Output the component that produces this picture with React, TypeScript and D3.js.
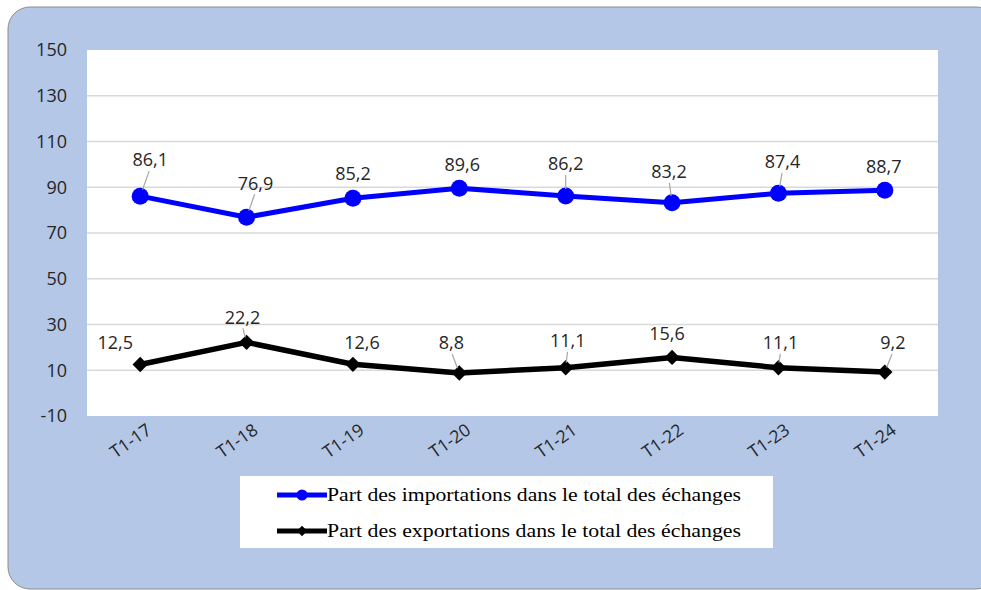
import React from "react";
import * as d3 from "d3";

const categories = ["T1-17", "T1-18", "T1-19", "T1-20", "T1-21", "T1-22", "T1-23", "T1-24"];
const importsShare = [86.1, 76.9, 85.2, 89.6, 86.2, 83.2, 87.4, 88.7];
const exportsShare = [12.5, 22.2, 12.6, 8.8, 11.1, 15.6, 11.1, 9.2];
const yTicks = [-10, 10, 30, 50, 70, 90, 110, 130, 150];
const seriesNames = [
  "Part des importations dans le total des échanges",
  "Part des exportations dans le total des échanges",
];

// label placement (offset of label centre from its point, in px) and leader flags
const importLabelOffsets: [number, number][] = [[10, -36], [9, -34], [0, -25], [3, -23], [0, -32], [-3, -31], [4, -31], [-1, -24]];
const exportLabelOffsets: [number, number][] = [[-25, -22], [-4, -25], [9, -22], [-8, -30], [2, -27], [-5, -24], [2, -25], [8, -29]];
const importLeaders = [true, true, false, false, true, true, true, false];
const exportLeaders = [false, true, false, true, true, false, true, true];

const W = 981, H = 590;
const plot = { left: 87, top: 50, right: 938, bottom: 416 };
const fmt = (v: number) => v.toFixed(1).replace(".", ",");
const sans = "'Open Sans', 'Liberation Sans', sans-serif";

export default function App() {
  const x = d3.scaleBand<string>().domain(categories).range([plot.left, plot.right]);
  const cx = (c: string) => (x(c) as number) + x.bandwidth() / 2;
  const y = d3.scaleLinear().domain([-10, 150]).range([plot.bottom, plot.top]);
  const line = d3.line<number>().x((_, i) => cx(categories[i])).y((d) => y(d));
  const diamond = d3.symbol().type(d3.symbolDiamond2).size(150)();
  const legendDiamond = d3.symbol().type(d3.symbolDiamond2).size(70)();

  const labels = (vals: number[], offs: [number, number][], leaders: boolean[], r: number) =>
    vals.map((v, i) => {
      const px = cx(categories[i]);
      const py = y(v);
      const lx = px + offs[i][0];
      const ly = py + offs[i][1];
      const x1 = lx + offs[i][0] * -0.1;
      const y1 = ly + 11;
      const dx = px - x1, dy = py - y1;
      const len = Math.hypot(dx, dy);
      const x2 = px - (dx / len) * (r - 2);
      const y2 = py - (dy / len) * (r - 2);
      return (
        <g key={i}>
          {leaders[i] && <line x1={x1} y1={y1} x2={x2} y2={y2} stroke="#a6a6a6" strokeWidth={1.2} />}
          <text x={lx} y={ly} dy="0.35em" textAnchor="middle" fontFamily={sans} fontSize={18} fill="#262626">
            {fmt(v)}
          </text>
        </g>
      );
    });

  return (
    <svg width={W} height={H} style={{ position: "absolute", left: 0, top: 0 }}>
      <rect x={8} y={7} width={990} height={582} rx={22} fill="#b4c7e7" stroke="#8c8c8c" strokeWidth={1} />
      <rect x={plot.left} y={plot.top} width={plot.right - plot.left} height={plot.bottom - plot.top} fill="#ffffff" />
      {yTicks.slice(1, -1).map((t) => (
        <line key={t} x1={plot.left} x2={plot.right} y1={y(t)} y2={y(t)} stroke="#d9d9d9" strokeWidth={1.5} />
      ))}
      {yTicks.map((t) => (
        <text key={t} x={67} y={y(t)} dy="0.35em" textAnchor="end" fontFamily={sans} fontSize={18} fill="#262626">
          {t}
        </text>
      ))}
      {categories.map((c) => (
        <text key={c} transform={`translate(${cx(c) + 5},${plot.bottom + 6}) rotate(-35)`} textAnchor="end" dy="0.75em"
          fontFamily={sans} fontSize={17.5} fill="#262626">
          {c}
        </text>
      ))}
      <path d={line(importsShare) || ""} fill="none" stroke="#0000ff" strokeWidth={5} strokeLinejoin="round" />
      {importsShare.map((v, i) => (
        <circle key={i} cx={cx(categories[i])} cy={y(v)} r={8.5} fill="#0000ff" />
      ))}
      <path d={line(exportsShare) || ""} fill="none" stroke="#000000" strokeWidth={5.5} strokeLinejoin="round" />
      {exportsShare.map((v, i) => (
        <path key={i} d={diamond || ""} transform={`translate(${cx(categories[i])},${y(v)})`} fill="#000000" />
      ))}
      {labels(importsShare, importLabelOffsets, importLeaders, 9)}
      {labels(exportsShare, exportLabelOffsets, exportLeaders, 7)}
      <rect x={240} y={476} width={533} height={72} fill="#ffffff" />
      {seriesNames.map((n, i) => {
        const ly = 495 + i * 36;
        return (
          <g key={n}>
            <line x1={277} x2={327} y1={ly} y2={ly} stroke={i === 0 ? "#0000ff" : "#000000"} strokeWidth={5} />
            {i === 0 ? (
              <circle cx={302} cy={ly} r={5.5} fill="#0000ff" />
            ) : (
              <path d={legendDiamond || ""} transform={`translate(302,${ly})`} fill="#000" />
            )}
            <text x={327} y={ly} dy="0.33em" fontFamily="'Liberation Serif', 'Times New Roman', serif" fontSize={18.5}
              fill="#000" textLength={414} lengthAdjust="spacingAndGlyphs">
              {n}
            </text>
          </g>
        );
      })}
    </svg>
  );
}
